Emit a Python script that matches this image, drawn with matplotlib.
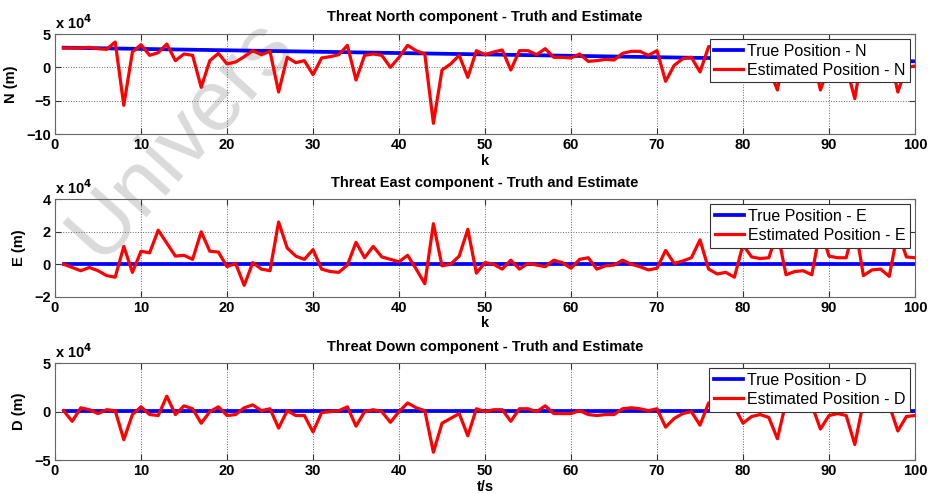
import matplotlib.pyplot as plt
import numpy as np

plt.rcParams['font.family'] = ['Liberation Sans', 'DejaVu Sans']
plt.rcParams['font.weight'] = 'bold'

k = np.arange(1, 101)

# true trajectory (x 10^4 m), straight line between end points
true_k = [1, 100]
true_n = [2.95, 0.9]
true_e = [0.0, 0.0]
true_d = [0.05, 0.05]

# estimates (x 10^4 m)
est_n = [2.9, 2.9, 2.9, 3.0, 2.8, 2.7, 3.8, -5.7, 2.3, 3.4,
         1.8, 2.2, 3.5, 1.0, 2.0, 1.8, -3.0, 1.0, 2.1, 0.5,
         0.8, 1.6, 2.5, 1.9, 2.4, -3.7, 1.5, 0.7, 1.0, -1.1,
         1.4, 1.6, 1.9, 3.3, -1.9, 1.8, 2.0, 1.8, 0.0, 1.5,
         3.3, 2.5, 2.0, -8.4, -0.4, 0.5, 1.8, -1.5, 2.5, 1.9,
         2.3, 2.6, -0.4, 2.5, 2.5, 1.9, 2.8, 1.5, 1.5, 1.4,
         2.0, 0.9, 1.0, 1.2, 1.1, 2.1, 2.4, 2.4, 1.8, 2.5,
         -2.1, 0.3, 1.3, 1.5, -0.7, 3.1, 3.1, 2.6, 2.4, -1.3,
         0.2, 0.6, -0.1, -3.4, 3.4, 2.9, 3.1, 2.6, -3.4, 0.2,
         0.6, 0.2, -4.7, 3.2, 2.8, 3.0, 2.5, -3.7, 0.0, 0.2]

est_e = [0.0, -0.2, -0.4, -0.2, -0.4, -0.7, -0.8, 1.1, -0.5, 0.8,
         0.7, 2.1, 1.3, 0.5, 0.55, 0.3, 2.0, 0.8, 0.75, -0.15,
         0.05, -1.3, 0.1, -0.3, -0.4, 2.6, 1.0, 0.5, 0.3, 0.9,
         -0.3, -0.45, -0.5, -0.05, 1.35, 0.4, 1.1, 0.45, 0.3, 0.15,
         0.55, -0.3, -1.2, 2.5, -0.1, 0.0, 0.5, 2.15, -0.55, 0.1,
         0.0, -0.3, 0.25, -0.3, 0.05, -0.05, -0.15, 0.25, 0.1, -0.25,
         0.3, 0.4, -0.3, -0.1, -0.05, 0.25, 0.0, -0.15, -0.35, -0.25,
         0.85, 0.05, 0.2, 0.4, 1.5, -0.3, -0.6, -0.5, -0.8, 1.2,
         0.45, 0.35, 0.4, 2.0, -0.65, -0.45, -0.4, -0.65, 2.2, 0.5,
         0.4, 0.4, 2.5, -0.7, -0.35, -0.3, -0.75, 2.0, 0.45, 0.4]

est_d = [0.1, -1.0, 0.4, 0.2, -0.2, 0.2, 0.1, -2.9, -0.3, 0.5,
         -0.3, -0.4, 1.6, -0.3, 0.6, 0.3, -1.2, 0.0, 0.5, -0.4,
         -0.3, 0.4, 0.7, 0.1, 0.3, -1.7, 0.1, -0.4, -0.4, -2.1,
         -0.1, 0.0, 0.1, 0.5, -1.5, 0.0, 0.2, 0.0, -1.1, 0.0,
         0.9, 0.4, 0.1, -4.2, -1.2, -0.7, -0.2, -2.5, 0.3, 0.0,
         0.2, 0.2, -1.0, 0.3, 0.3, 0.0, 0.6, -0.2, -0.2, -0.2,
         0.1, -0.3, -0.4, -0.3, -0.3, 0.3, 0.4, 0.3, 0.1, 0.3,
         -1.6, -0.7, -0.2, 0.0, -1.4, 0.9, 0.8, 0.6, 0.5, -1.2,
         -0.5, -0.3, -0.6, -2.8, 1.0, 0.8, 0.9, 0.7, -1.8, -0.4,
         -0.2, -0.4, -3.4, 1.0, 0.8, 0.9, 0.7, -2.0, -0.5, -0.4]

panels = [
    ('Threat North component - Truth and Estimate', 'N (m)', 'k', 'N',
     true_n, est_n, (-10, 5), [-10, -5, 0, 5]),
    ('Threat East component - Truth and Estimate', 'E (m)', 'k', 'E',
     true_e, est_e, (-2, 4), [-2, 0, 2, 4]),
    ('Threat Down component - Truth and Estimate', 'D (m)', 't/s', 'D',
     true_d, est_d, (-5, 5), [-5, 0, 5]),
]

W, H = 929, 494
fig = plt.figure(figsize=(W / 100, H / 100), dpi=100)

# faint watermark behind everything
fig.text(100 / W, 1 - 262 / H, 'Univers', fontsize=62, fontweight='normal',
         color='#dadada', rotation=48, rotation_mode='anchor',
         ha='left', va='baseline', zorder=-5)

boxes = [(34, 134), (199.3, 296.7), (363.3, 460)]

for (title, ylab, xlab, tag, tv, ev, ylim, yt), (top, bot) in zip(panels, boxes):
    ax = fig.add_axes([55 / W, 1 - bot / H, 860 / W, (bot - top) / H])
    ax.patch.set_alpha(0)
    ax.plot(true_k, tv, color='#0000ff', lw=2.7, label='True Position - ' + tag)
    ax.plot(k, ev, color='#ff0000', lw=2.3, label='Estimated Position - ' + tag)
    ax.set_xlim(0, 100)
    ax.set_ylim(*ylim)
    ax.set_xticks(np.arange(0, 101, 10))
    ax.set_yticks(yt)
    ax.grid(True, color='#666666', linestyle=':', linewidth=0.7)
    ax.tick_params(direction='in', top=True, right=True, length=4,
                   labelsize=10.5, pad=3, color='#333333')
    for s in ax.spines.values():
        s.set_color('#666666')
    ax.set_title(title, fontsize=10.5, fontweight='bold', pad=9)
    ax.set_ylabel(ylab, fontsize=10.5, fontweight='bold', labelpad=6)
    ax.set_xlabel(xlab, fontsize=10.5, fontweight='bold', labelpad=1)
    ax.text(0, 1.02, r'x 10$^{4}$', transform=ax.transAxes, fontsize=10.5,
            ha='left', va='bottom')
    leg = ax.legend(loc='upper right', fontsize=11.5, frameon=True, fancybox=False,
                    framealpha=1, borderaxespad=0.3, handlelength=1.8,
                    handletextpad=0.25, borderpad=0.3, labelspacing=0.25)
    leg.get_frame().set_edgecolor('#333333')
    leg.get_frame().set_linewidth(0.8)
    for t in leg.get_texts():
        t.set_fontweight('normal')

fig.savefig('out.png', dpi=100)
